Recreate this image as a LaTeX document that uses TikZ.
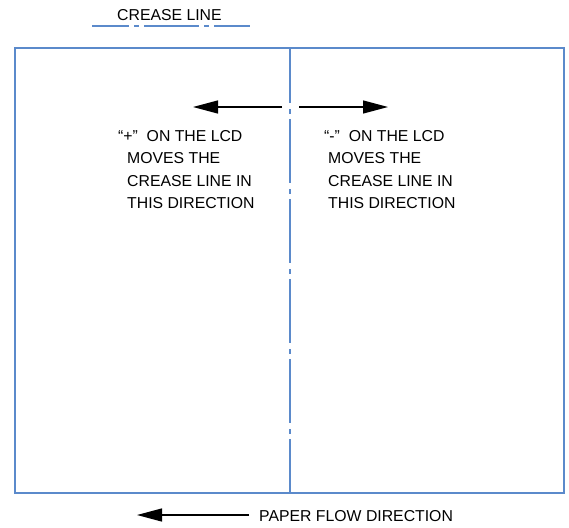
\documentclass[tikz,border=0pt]{standalone}
\usepackage{fontspec}
\setmainfont{Liberation Sans}
\usetikzlibrary{arrows.meta}
\definecolor{creaseblue}{RGB}{91,138,203}
\begin{document}
\begin{tikzpicture}[x=1pt,y=-1pt,
  lbl/.style={inner sep=0pt,anchor=base west,font=\fontsize{15.8}{18}\selectfont},
  paper/.style={draw=creaseblue,line width=1.8pt},
  crease/.style={draw=creaseblue,line width=1.8pt,dash pattern=on 64pt off 6pt on 5pt off 5pt,dash phase=9pt},
  legendline/.style={draw=creaseblue,line width=1.4pt,dash pattern=on 55pt off 5pt on 5pt off 5pt,dash phase=18pt},
  dirarrow/.style={draw=black,line width=1.3pt,-{Triangle[length=25pt,width=13pt]}}]
\useasboundingbox (0,0) rectangle (569,527);

% legend
\node[lbl] (legend) at (117,21) {CREASE LINE};
\coordinate (lg1) at (92,26);
\coordinate (lg2) at (250,26);
\draw[legendline] (lg1) -- (lg2);

% sheet and crease
\coordinate (tl) at (15,48);
\coordinate (br) at (564,493);
\draw[paper] (tl) rectangle (br);
\coordinate (ctop) at (290,48);
\coordinate (cbot) at (290,493);
\draw[crease] (ctop) -- (cbot);

% adjustment arrows
\coordinate (la) at (282,107);
\coordinate (lb) at (193,107);
\coordinate (ra) at (299,107);
\coordinate (rb) at (388,107);
\draw[dirarrow] (la) -- (lb);
\draw[dirarrow] (ra) -- (rb);

% left text
\node[lbl] (p1) at (118,141) {“+”\ \ ON THE LCD};
\node[lbl] (p2) at (127,163.5) {MOVES THE};
\node[lbl] (p3) at (127,186) {CREASE LINE IN};
\node[lbl] (p4) at (127,208.5) {THIS DIRECTION};

% right text
\node[lbl] (m1) at (324,141) {“-”\ \ ON THE LCD};
\node[lbl] (m2) at (328,163.5) {MOVES THE};
\node[lbl] (m3) at (328,186) {CREASE LINE IN};
\node[lbl] (m4) at (328,208.5) {THIS DIRECTION};

% paper flow
\node[lbl] (flow) at (259,521) {PAPER FLOW DIRECTION};
\coordinate (fa) at (249,515);
\coordinate (fb) at (137,515);
\draw[dirarrow] (fa) -- (fb);
\end{tikzpicture}
\end{document}
